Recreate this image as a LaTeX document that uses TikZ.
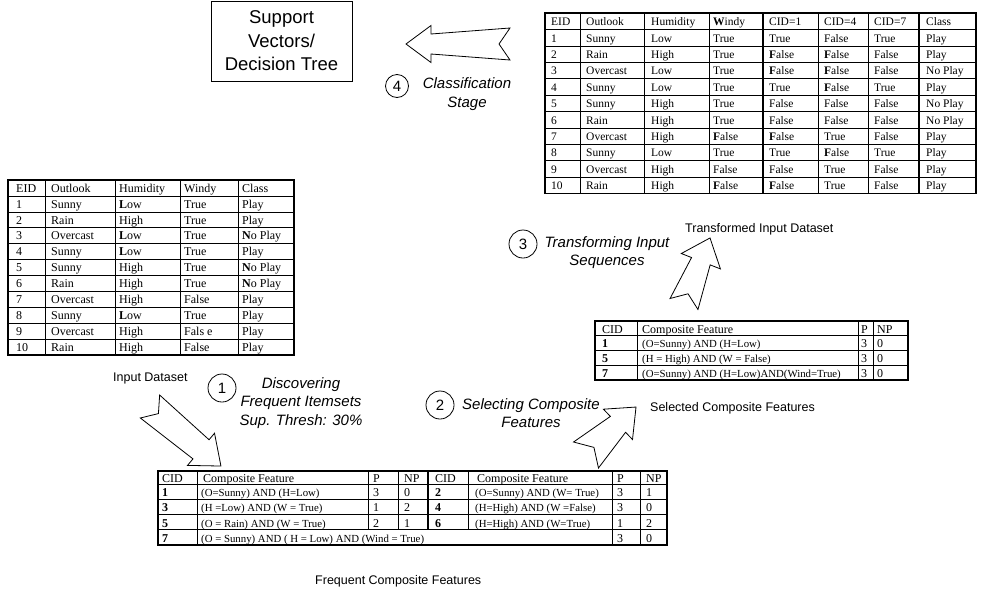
\documentclass[tikz,border=0pt]{standalone}
\usepackage{fontspec}
\setmainfont{Liberation Serif}
\setsansfont{Liberation Sans}
\begin{document}
\begin{tikzpicture}[x=1pt,y=-1pt,
  tl/.style={line width=0.6pt},
  tlb/.style={line width=1.3pt},
  tc/.style={inner sep=0pt, anchor=base west, font=\fontsize{11.5}{13}\selectfont},
  lc/.style={inner sep=0pt, anchor=base west, font=\fontsize{12}{13}\selectfont},
  hc/.style={inner sep=0pt, anchor=base west, font=\fontsize{12}{13}\selectfont},
  fc/.style={inner sep=0pt, anchor=base west, font=\fontsize{10.8}{12}\selectfont},
  bc/.style={inner sep=0pt, anchor=base west, font=\bfseries\fontsize{12}{13}\selectfont},
  barrow/.style={draw, line width=0.8pt, fill=white, line join=miter},
  numc/.style={draw, circle, line width=0.8pt, inner sep=0pt, font=\sffamily\fontsize{15}{15}\selectfont},
  itl/.style={align=center, inner sep=0pt, font=\sffamily\itshape\fontsize{15}{18.5}\selectfont},
  lab/.style={inner sep=0pt, anchor=base west, font=\sffamily\fontsize{12.5}{14}\selectfont}]
\useasboundingbox (0,0) rectangle (987,598);

% ---------- Support vectors box ----------
\node[draw, line width=0.8pt, minimum width=141pt, minimum height=80pt, align=center,
      font=\sffamily\fontsize{18.5}{23.5}\selectfont] (svm) at (281.5,41) {Support\\Vectors/\\Decision Tree};

% ---------- Top-right table (transformed) ----------
\draw[tl] \foreach \i in {1,...,10}{(545,{13+16.4*\i}) -- (976,{13+16.4*\i})};
\draw[tl] \foreach \x in {580,644,709,818,868}{(\x,13) -- (\x,193.4)};
\draw[tlb] (763,13) -- (763,193.4) (919,13) -- (919,193.4);
\draw[tlb] (545,13) rectangle (976,193.4);
\foreach \r/\a/\b/\c/\d/\e/\f/\g/\h in {
  0/EID/Outlook/Humidity/\textbf{W}indy/CID=1/CID=4/CID=7/Class,
  1/1/Sunny/Low/True/True/False/True/Play,
  2/2/Rain/High/True/\textbf{F}alse/\textbf{F}alse/False/Play,
  3/3/Overcast/Low/True/\textbf{F}alse/\textbf{F}alse/False/No Play,
  4/4/Sunny/Low/True/True/\textbf{F}alse/True/Play,
  5/5/Sunny/High/True/False/False/False/No Play,
  6/6/Rain/High/True/False/False/False/No Play,
  7/7/Overcast/High/\textbf{F}alse/\textbf{F}alse/True/False/Play,
  8/8/Sunny/Low/True/True/\textbf{F}alse/True/Play,
  9/9/Overcast/High/False/False/True/False/Play,
  10/10/Rain/High/\textbf{F}alse/\textbf{F}alse/True/False/Play}{
  \pgfmathsetmacro\yb{13+16.4*\r+12.6}
  \node[tc] (T\r-1) at (551,\yb) {\a};
  \node[tc] (T\r-2) at (586,\yb) {\b};
  \node[tc] (T\r-3) at (651,\yb) {\c};
  \node[tc] (T\r-4) at (713,\yb) {\d};
  \node[tc] (T\r-5) at (769,\yb) {\e};
  \node[tc] (T\r-6) at (824,\yb) {\f};
  \node[tc] (T\r-7) at (874,\yb) {\g};
  \node[tc] (T\r-8) at (926,\yb) {\h};
}

% ---------- Left table (input) ----------
\draw[tl] \foreach \i in {1,...,10}{(8,{180+15.9*\i}) -- (294,{180+15.9*\i})};
\draw[tl] \foreach \x in {45,115,180,238}{(\x,180) -- (\x,355)};
\draw[tlb] (8,180) rectangle (294,355);
\foreach \r/\a/\b/\c/\d/\e in {
  0/EID/Outlook/Humidity/Windy/Class,
  1/1/Sunny/\textbf{L}ow/True/Play,
  2/2/Rain/High/True/Play,
  3/3/Overcast/\textbf{L}ow/True/\textbf{N}o Play,
  4/4/Sunny/\textbf{L}ow/True/Play,
  5/5/Sunny/High/True/\textbf{N}o Play,
  6/6/Rain/High/True/\textbf{N}o Play,
  7/7/Overcast/High/False/Play,
  8/8/Sunny/\textbf{L}ow/True/Play,
  9/9/Overcast/High/Fals e/Play,
  10/10/Rain/High/False/Play}{
  \pgfmathsetmacro\yb{180+15.9*\r+12.2}
  \node[lc] (L\r-1) at (16,\yb) {\a};
  \node[lc] (L\r-2) at (51,\yb) {\b};
  \node[lc] (L\r-3) at (119,\yb) {\c};
  \node[lc] (L\r-4) at (184,\yb) {\d};
  \node[lc] (L\r-5) at (242,\yb) {\e};
}

% ---------- Middle-right table (selected) ----------
\draw[tl] (595,335.5) -- (908,335.5) (595,350.3) -- (908,350.3) (595,365) -- (908,365);
\draw[tl] \foreach \x in {637,858,873}{(\x,321) -- (\x,380)};
\draw[tlb] (595,321) rectangle (908,380);
\node[hc] (M0-1) at (602,333) {CID};
\node[hc] (M0-2) at (642,333) {Composite Feature};
\node[hc] (M0-3) at (861,333) {P};
\node[hc] (M0-4) at (877,333) {NP};
\foreach \r/\a/\b in {1/1/(O=Sunny) AND (H=Low), 2/5/(H = High) AND (W = False), 3/7/(O=Sunny) AND (H=Low)AND(Wind=True)}{
  \pgfmathsetmacro\yb{335.5+14.8*\r-2.6}
  \node[bc] (M\r-1) at (602,\yb) {\a};
  \node[fc] (M\r-2) at (642,\yb) {\b};
  \node[lc] (M\r-3) at (861,\yb) {3};
  \node[lc] (M\r-4) at (877,\yb) {0};
}

% ---------- Bottom table (frequent) ----------
\draw[tl] (158,484) -- (667,484) (158,499.5) -- (667,499.5) (158,514.5) -- (667,514.5) (158,529.5) -- (667,529.5);
\draw[tl] \foreach \x in {197,612,640}{(\x,471) -- (\x,545)};
\draw[tl] \foreach \x in {368,398,468}{(\x,471) -- (\x,529.5)};
\draw[tlb] (428,471) -- (428,529.5);
\draw[tlb] (158,471) rectangle (667,545);
\node[hc] (B0-1) at (162,482) {CID};
\node[hc] (B0-2) at (203,482) {Composite Feature};
\node[hc] (B0-3) at (373,482) {P};
\node[hc] (B0-4) at (404,482) {NP};
\node[hc] (B0-5) at (435,482) {CID};
\node[hc] (B0-6) at (477,482) {Composite Feature};
\node[hc] (B0-7) at (617,482) {P};
\node[hc] (B0-8) at (646,482) {NP};
\foreach \r/\a/\b/\c/\d/\e/\f/\g/\h in {
  1/1/(O=Sunny) AND (H=Low)/3/0/2/(O=Sunny) AND (W= True)/3/1,
  2/3/(H =Low) AND (W = True)/1/2/4/(H=High) AND (W =False)/3/0,
  3/5/(O = Rain) AND (W = True)/2/1/6/(H=High) AND (W=True)/1/2}{
  \pgfmathsetmacro\yb{484+15.2*\r-2.5}
  \node[bc] (B\r-1) at (162,\yb) {\a};
  \node[fc] (B\r-2) at (201,\yb) {\b};
  \node[lc] (B\r-3) at (373,\yb) {\c};
  \node[lc] (B\r-4) at (404,\yb) {\d};
  \node[bc] (B\r-5) at (435,\yb) {\e};
  \node[fc] (B\r-6) at (475,\yb) {\f};
  \node[lc] (B\r-7) at (617,\yb) {\g};
  \node[lc] (B\r-8) at (646,\yb) {\h};
}
\node[bc] (B4-1) at (162,542) {7};
\node[fc] (B4-2) at (201,542) {(O = Sunny) AND ( H = Low) AND (Wind = True)};
\node[lc] (B4-3) at (617,542) {3};
\node[lc] (B4-4) at (646,542) {0};

% ---------- Block arrows ----------
\newcommand{\blockarrow}[8]{%
  \draw[barrow, shift={(#1,#2)}, rotate=#3]
    (0,#5) -- (#4-#8,#6) -- (#4-#8,#7) -- (#4,0) -- (#4-#8,-#7) -- (#4-#8,-#6) -- (0,-#5) -- (11,0) -- cycle;}
\blockarrow{150}{406.5}{-40}{92.6}{15}{12.5}{21}{26}
\blockarrow{586}{455}{43.8}{69.3}{18}{11}{21}{25}
\blockarrow{684}{304}{68.5}{71}{15}{10}{21}{25}
\blockarrow{510}{44}{180}{104}{16}{10}{18.5}{25}

% ---------- Step circles and labels ----------
\node[numc, minimum size=28pt] (c1) at (222,388) {1};
\node[numc, minimum size=28pt] (c2) at (440,405) {2};
\node[numc, minimum size=28pt] (c3) at (523,244) {3};
\node[numc, minimum size=23pt] (c4) at (397,86) {4};
\node[itl] (s1) at (301,403) {Discovering\\Frequent Itemsets\\Sup. Thresh: 30\%};
\node[itl] (s2) at (531,413) {Selecting Composite\\Features};
\node[itl] (s3) at (607,252.5) {Transforming Input\\Sequences};
\node[itl] (s4) at (467,94) {Classification\\Stage};

\node[lab] (l1) at (113,381.5) {Input Dataset};
\node[lab] (l2) at (685,232.5) {Transformed Input Dataset};
\node[lab] (l3) at (650,411) {Selected Composite Features};
\node[lab] (l4) at (315,584.5) {Frequent Composite Features};
\end{tikzpicture}
\end{document}
